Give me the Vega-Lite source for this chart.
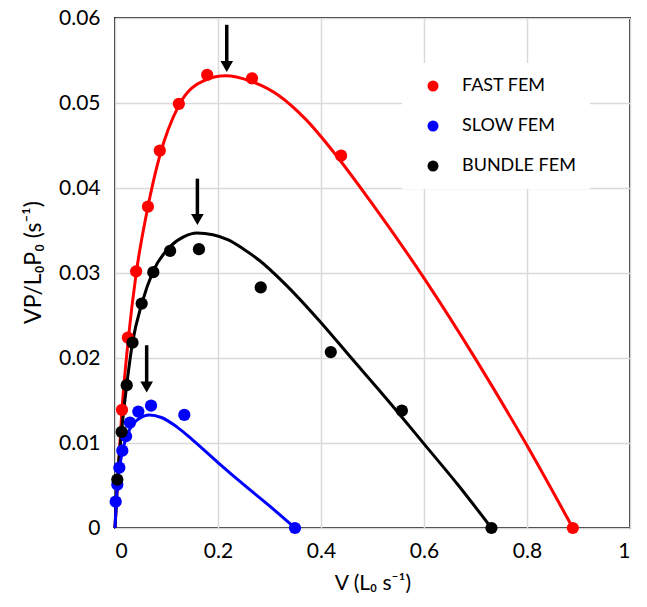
{
  "$schema": "https://vega.github.io/schema/vega-lite/v6.json",
  "width": 515,
  "height": 510,
  "autosize": "none",
  "padding": {"left": 115, "top": 18, "right": 17, "bottom": 79},
  "background": "white",
  "config": {
    "font": "Lato",
    "view": {"stroke": "#262626", "strokeWidth": 2},
    "axis": {
      "grid": true, "gridColor": "#d9d9d9", "gridWidth": 1.5,
      "domain": false, "ticks": false,
      "labelFont": "Lato", "labelFontSize": 21, "labelColor": "#000000",
      "titleFont": "Lato", "titleFontSize": 21, "titleFontWeight": "normal", "titleColor": "#000000"
    },
    "legend": {
      "orient": "none", "legendX": 287, "legendY": 45,
      "fillColor": "white", "padding": 14,
      "labelFontSize": 18, "labelFont": "Lato", "labelColor": "#000000", "labelOffset": 20,
      "rowPadding": 22, "symbolSize": 121, "symbolType": "circle", "symbolOffset": 8, "symbolStrokeWidth": 0
    }
  },
  "datasets": {
    "curves": [
      {"fit": "fast", "V": 0, "P": 0},
      {"fit": "fast", "V": 0.006, "P": 0.0063},
      {"fit": "fast", "V": 0.013, "P": 0.0134},
      {"fit": "fast", "V": 0.026, "P": 0.0223},
      {"fit": "fast", "V": 0.041, "P": 0.0299},
      {"fit": "fast", "V": 0.062, "P": 0.0372},
      {"fit": "fast", "V": 0.087, "P": 0.0438},
      {"fit": "fast", "V": 0.123, "P": 0.0496},
      {"fit": "fast", "V": 0.175, "P": 0.0527},
      {"fit": "fast", "V": 0.215, "P": 0.0532},
      {"fit": "fast", "V": 0.262, "P": 0.0526},
      {"fit": "fast", "V": 0.320, "P": 0.0508},
      {"fit": "fast", "V": 0.370, "P": 0.0481},
      {"fit": "fast", "V": 0.430, "P": 0.0438},
      {"fit": "fast", "V": 0.500, "P": 0.0381},
      {"fit": "fast", "V": 0.600, "P": 0.0294},
      {"fit": "fast", "V": 0.700, "P": 0.0199},
      {"fit": "fast", "V": 0.800, "P": 0.0097},
      {"fit": "fast", "V": 0.889, "P": 0},
      {"fit": "bundle", "V": 0, "P": 0},
      {"fit": "bundle", "V": 0.0045, "P": 0.0055},
      {"fit": "bundle", "V": 0.013, "P": 0.0115},
      {"fit": "bundle", "V": 0.0227, "P": 0.0168},
      {"fit": "bundle", "V": 0.034, "P": 0.0218},
      {"fit": "bundle", "V": 0.052, "P": 0.0264},
      {"fit": "bundle", "V": 0.074, "P": 0.0302},
      {"fit": "bundle", "V": 0.107, "P": 0.0331},
      {"fit": "bundle", "V": 0.135, "P": 0.0343},
      {"fit": "bundle", "V": 0.159, "P": 0.0347},
      {"fit": "bundle", "V": 0.190, "P": 0.0345},
      {"fit": "bundle", "V": 0.220, "P": 0.0339},
      {"fit": "bundle", "V": 0.250, "P": 0.0328},
      {"fit": "bundle", "V": 0.280, "P": 0.0315},
      {"fit": "bundle", "V": 0.327, "P": 0.0289},
      {"fit": "bundle", "V": 0.398, "P": 0.0243},
      {"fit": "bundle", "V": 0.456, "P": 0.0202},
      {"fit": "bundle", "V": 0.530, "P": 0.0150},
      {"fit": "bundle", "V": 0.600, "P": 0.0099},
      {"fit": "bundle", "V": 0.667, "P": 0.0050},
      {"fit": "bundle", "V": 0.731, "P": 0},
      {"fit": "slow", "V": 0, "P": 0},
      {"fit": "slow", "V": 0.004, "P": 0.0045},
      {"fit": "slow", "V": 0.008, "P": 0.0068},
      {"fit": "slow", "V": 0.014, "P": 0.0089},
      {"fit": "slow", "V": 0.021, "P": 0.0105},
      {"fit": "slow", "V": 0.030, "P": 0.0118},
      {"fit": "slow", "V": 0.045, "P": 0.0128},
      {"fit": "slow", "V": 0.067, "P": 0.0133},
      {"fit": "slow", "V": 0.090, "P": 0.0130},
      {"fit": "slow", "V": 0.120, "P": 0.0119},
      {"fit": "slow", "V": 0.150, "P": 0.0104},
      {"fit": "slow", "V": 0.200, "P": 0.0077},
      {"fit": "slow", "V": 0.250, "P": 0.0051},
      {"fit": "slow", "V": 0.300, "P": 0.0026},
      {"fit": "slow", "V": 0.3495, "P": 0}
    ],
    "points": [
      {"series": "FAST FEM", "V": 0.0136, "P": 0.0139},
      {"series": "FAST FEM", "V": 0.025, "P": 0.0224},
      {"series": "FAST FEM", "V": 0.041, "P": 0.0302},
      {"series": "FAST FEM", "V": 0.064, "P": 0.0378},
      {"series": "FAST FEM", "V": 0.087, "P": 0.0444},
      {"series": "FAST FEM", "V": 0.124, "P": 0.0499},
      {"series": "FAST FEM", "V": 0.179, "P": 0.0533},
      {"series": "FAST FEM", "V": 0.266, "P": 0.0529},
      {"series": "FAST FEM", "V": 0.439, "P": 0.0438},
      {"series": "FAST FEM", "V": 0.889, "P": 0},
      {"series": "SLOW FEM", "V": 0.0013, "P": 0.0031},
      {"series": "SLOW FEM", "V": 0.0045, "P": 0.0051},
      {"series": "SLOW FEM", "V": 0.0084, "P": 0.0071},
      {"series": "SLOW FEM", "V": 0.0142, "P": 0.0091},
      {"series": "SLOW FEM", "V": 0.0214, "P": 0.0108},
      {"series": "SLOW FEM", "V": 0.029, "P": 0.0124},
      {"series": "SLOW FEM", "V": 0.0453, "P": 0.0137},
      {"series": "SLOW FEM", "V": 0.070, "P": 0.0144},
      {"series": "SLOW FEM", "V": 0.1346, "P": 0.0133},
      {"series": "SLOW FEM", "V": 0.3495, "P": 0},
      {"series": "BUNDLE FEM", "V": 0.0045, "P": 0.0057},
      {"series": "BUNDLE FEM", "V": 0.0129, "P": 0.0113},
      {"series": "BUNDLE FEM", "V": 0.0227, "P": 0.0168},
      {"series": "BUNDLE FEM", "V": 0.034, "P": 0.0218},
      {"series": "BUNDLE FEM", "V": 0.0518, "P": 0.0264},
      {"series": "BUNDLE FEM", "V": 0.0744, "P": 0.0301},
      {"series": "BUNDLE FEM", "V": 0.107, "P": 0.0326},
      {"series": "BUNDLE FEM", "V": 0.163, "P": 0.0328},
      {"series": "BUNDLE FEM", "V": 0.283, "P": 0.0283},
      {"series": "BUNDLE FEM", "V": 0.419, "P": 0.0207},
      {"series": "BUNDLE FEM", "V": 0.557, "P": 0.0138},
      {"series": "BUNDLE FEM", "V": 0.731, "P": 0}
    ],
    "arrows": [
      {"V": 0.217, "top": 0.0592, "head": 0.0543},
      {"V": 0.160, "top": 0.0411, "head": 0.0363},
      {"V": 0.0615, "top": 0.0215, "head": 0.0166}
    ]
  },
  "layer": [
    {
      "data": {"name": "curves"},
      "mark": {"type": "line", "strokeWidth": 3, "interpolate": "monotone"},
      "encoding": {
        "x": {"field": "V", "type": "quantitative", "scale": {"domain": [0, 1], "nice": false}, "axis": {"title": "V (L₀ s⁻¹)", "values": [0, 0.2, 0.4, 0.6, 0.8, 1], "format": ".1~f", "labelPadding": 12, "titlePadding": 11}},
        "y": {"field": "P", "type": "quantitative", "scale": {"domain": [0, 0.06], "nice": false}, "axis": {"title": "VP/L₀P₀ (s⁻¹)", "titleFontSize": 23, "titleY": 244, "values": [0, 0.01, 0.02, 0.03, 0.04, 0.05, 0.06], "format": ".2~f", "labelPadding": 15, "titlePadding": 13}},
        "stroke": {"field": "fit", "type": "nominal", "scale": {"domain": ["fast", "slow", "bundle"], "range": ["#FF0000", "#0000FF", "#000000"]}, "legend": null}
      }
    },
    {
      "data": {"name": "points"},
      "mark": {"type": "circle", "size": 150, "opacity": 1},
      "encoding": {
        "x": {"field": "V", "type": "quantitative"},
        "y": {"field": "P", "type": "quantitative"},
        "color": {"field": "series", "type": "nominal",
          "scale": {"domain": ["FAST FEM", "SLOW FEM", "BUNDLE FEM"], "range": ["#FF0000", "#0000FF", "#000000"]},
          "legend": {"title": null}}
      }
    },
    {
      "data": {"name": "arrows"},
      "mark": {"type": "rule", "strokeWidth": 3.5, "color": "#000000"},
      "encoding": {
        "x": {"field": "V", "type": "quantitative"},
        "y": {"field": "top", "type": "quantitative"},
        "y2": {"field": "head"}
      }
    },
    {
      "data": {"name": "arrows"},
      "mark": {"type": "point", "shape": "triangle-down", "filled": true, "size": 160, "color": "#000000", "opacity": 1},
      "encoding": {
        "x": {"field": "V", "type": "quantitative"},
        "y": {"field": "head", "type": "quantitative"}
      }
    }
  ]
}
